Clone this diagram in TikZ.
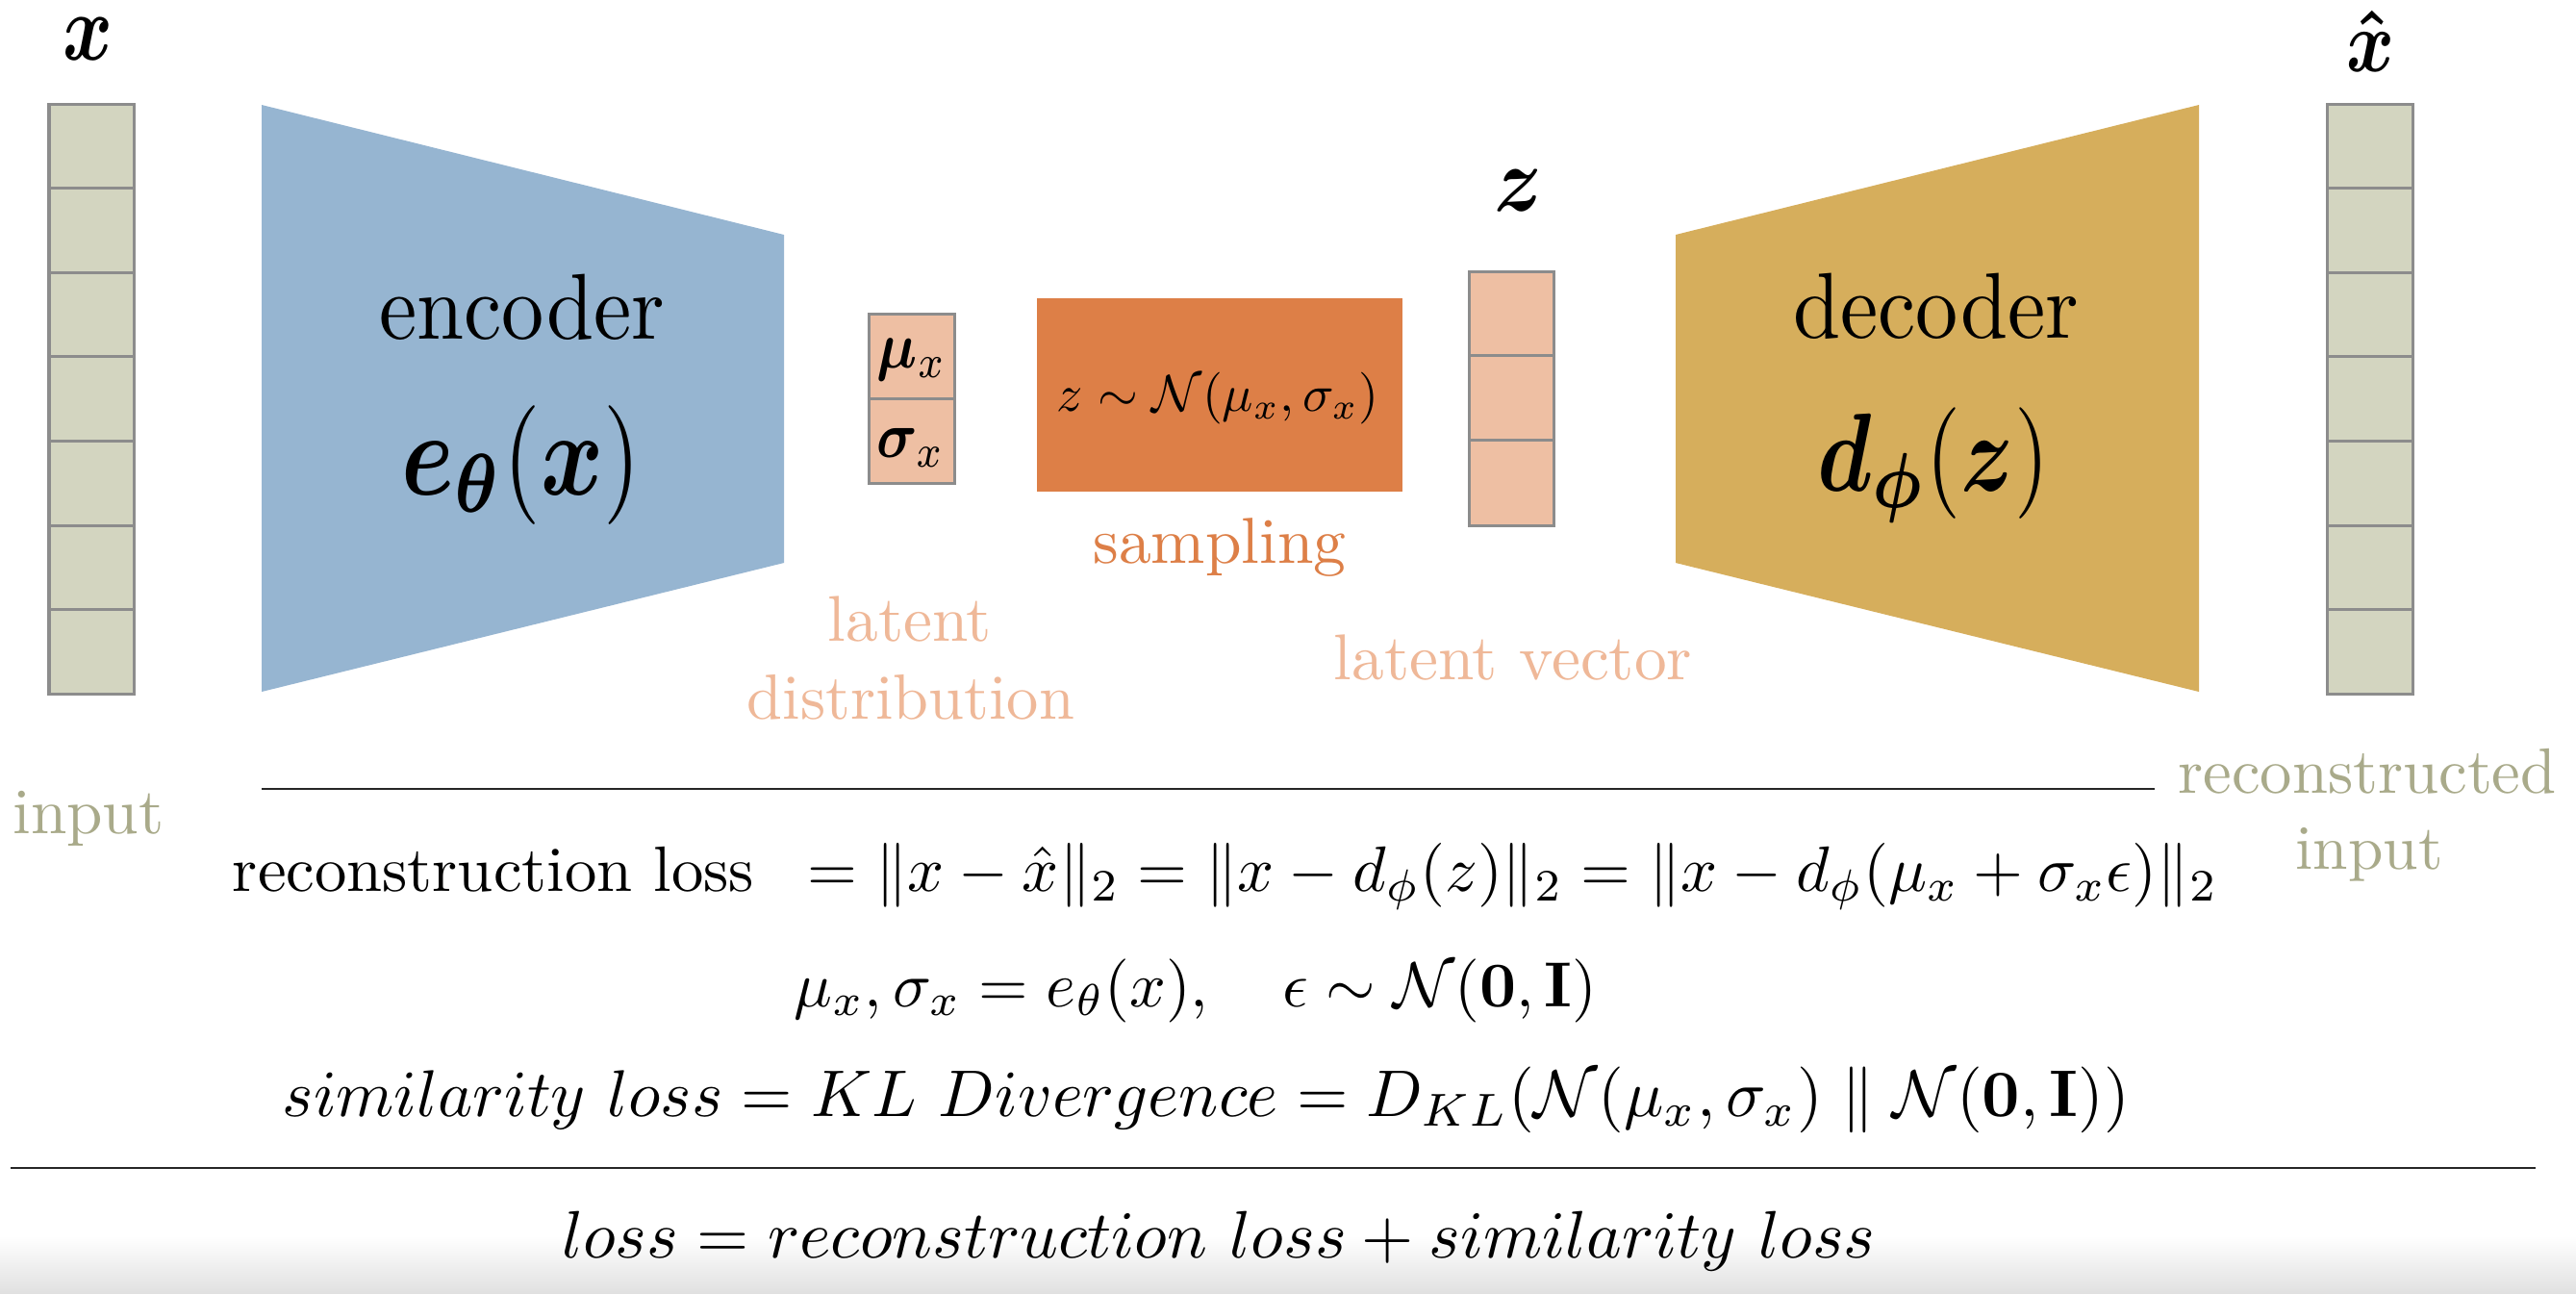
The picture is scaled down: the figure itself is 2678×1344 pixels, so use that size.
\documentclass[tikz,border=0pt]{standalone}
\usepackage{amsmath,amssymb,bm,graphicx}
\definecolor{colfill}{HTML}{D3D5C0}
\definecolor{colline}{HTML}{8C8C8C}
\definecolor{encblue}{HTML}{96B5D1}
\definecolor{peach}{HTML}{EEBFA3}
\definecolor{sampor}{HTML}{DD7F47}
\definecolor{decgold}{HTML}{D6AE5C}
\definecolor{olive}{HTML}{A9AA8A}
\definecolor{peachtxt}{HTML}{EFB898}
\newcommand{\fitw}[2]{\resizebox{#1cm}{!}{#2}}
\newcommand{\fitws}[3]{\scalebox{1}[#2]{\resizebox{#1cm}{!}{#3}}}
\tikzset{
  incell/.style={fill=colfill,draw=colline,line width=0.03cm},
  pcell/.style={fill=peach,draw=colline,line width=0.03cm},
  lbl/.style={anchor=base,inner sep=0pt,outer sep=0pt},
  rule/.style={draw=black!85,line width=0.028cm}
}
\begin{document}
\begin{tikzpicture}[x=0.01cm,y=-0.01cm]
\useasboundingbox (0,0) rectangle (2678,1344);
\fill[white] (0,0) rectangle (2678,1344);
\shade[top color=white,bottom color=black!12] (0,1285) rectangle (2678,1344);

% input column
\foreach \i in {0,...,6}{
  \draw[incell] (51,{108+87.6*\i}) rectangle (139,{108+87.6*(\i+1)});
}
% output column
\foreach \i in {0,...,6}{
  \draw[incell] (2419,{108+87.6*\i}) rectangle (2508,{108+87.6*(\i+1)});
}
% encoder
\fill[encblue] (272,109) -- (815,244) -- (815,585) -- (272,719) -- cycle;
% decoder
\fill[decgold] (1742,244) -- (2286,109) -- (2286,719) -- (1742,585) -- cycle;
% latent distribution
\draw[pcell] (903,326) rectangle (992,414);
\draw[pcell] (903,414) rectangle (992,502);
% sampling
\fill[sampor] (1078,310) rectangle (1458,511);
% latent vector column
\draw[pcell] (1527,282) rectangle (1615,369);
\draw[pcell] (1527,369) rectangle (1615,457);
\draw[pcell] (1527,457) rectangle (1615,546);

% labels
\node[lbl] (xlab) at (92,62) {\fitws{0.52}{1.25}{$\bm{x}$}};
\node[lbl] (xhlab) at (2464,74) {\fitws{0.50}{1.2}{$\bm{\hat{x}}$}};
\node[lbl] (zlab) at (1578,219) {\fitws{0.50}{1.15}{$\bm{z}$}};

\node[lbl] (enc) at (543,352) {\fitws{2.97}{1.1}{encoder}};
\node[lbl] (encf) at (542,514) {\fitws{2.48}{1.25}{$\bm{e}_{\bm{\theta}}(\bm{x})$}};
\node[lbl] (dec) at (2013,351) {\fitws{2.97}{1.1}{decoder}};
\node[lbl] (decf) at (2010,510) {\fitws{2.40}{1.25}{$\bm{d}_{\bm{\phi}}(\bm{z})$}};

\node[lbl] (mu) at (948,382) {\fitws{0.72}{1.15}{$\bm{\mu}_x$}};
\node[lbl] (sig) at (947,475) {\fitws{0.70}{1.15}{$\bm{\sigma}_x$}};
\node[lbl] (samp) at (1266,427) {\fitw{3.34}{$z\sim\mathcal{N}(\mu_x,\sigma_x)$}};
\node[lbl,text=sampor] (samplbl) at (1268,585) {\fitw{2.63}{sampling}};

\node[lbl,text=peachtxt] (lat1) at (946,666) {\fitw{1.70}{latent}};
\node[lbl,text=peachtxt] (lat2) at (947,747) {\fitw{3.40}{distribution}};
\node[lbl,text=peachtxt] (latv) at (1573,706) {\fitw{3.72}{latent vector}};

\node[lbl,text=olive] (inl) at (92,866) {\fitw{1.57}{input}};
\node[lbl,text=olive] (recl) at (2461,824) {\fitw{3.93}{reconstructed}};
\node[lbl,text=olive] (recl2) at (2463,903) {\fitw{1.53}{input}};

% rules
\coordinate (r1a) at (272,820);
\coordinate (r1b) at (2240,820);
\coordinate (r2a) at (11,1214);
\coordinate (r2b) at (2636,1214);
\draw[rule] (r1a) -- (r1b);
\draw[rule] (r2a) -- (r2b);

% formulas
\node[lbl] (row1) at (1274,926) {\fitw{20.63}{$\text{reconstruction loss}\;\; = \|x-\hat{x}\|_2 = \|x-d_\phi(z)\|_2 = \|x-d_\phi(\mu_x+\sigma_x\epsilon)\|_2$}};
\node[lbl] (row2) at (1243,1046) {\fitw{8.34}{$\mu_x,\sigma_x = e_\theta(x),\quad \epsilon\sim\mathcal{N}(\mathbf{0},\mathbf{I})$}};
\node[lbl] (row3) at (1254,1160) {\fitw{19.19}{$similarity~loss = KL~Divergence = D_{KL}(\mathcal{N}(\mu_x,\sigma_x)\;\|\;\mathcal{N}(\mathbf{0},\mathbf{I}))$}};
\node[lbl] (row4) at (1267,1307) {\fitw{13.65}{$loss = reconstruction~loss + similarity~loss$}};
\end{tikzpicture}
\end{document}
